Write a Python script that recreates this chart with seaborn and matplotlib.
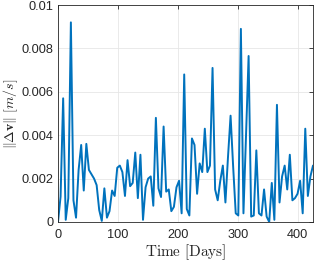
import seaborn as sns
import matplotlib.pyplot as plt
import pandas as pd

# Velocity increment magnitude per manoeuvre
days = [0.0, 4.3, 8.6, 12.9, 17.2, 21.5, 25.8, 30.1, 34.4, 38.7,
        43.0, 47.3, 51.6, 55.9, 60.2, 64.5, 68.8, 73.1, 77.4, 81.7,
        86.0, 90.3, 94.6, 98.9, 103.2, 107.5, 111.8, 116.1, 120.4, 124.7,
        129.0, 133.3, 137.6, 141.9, 146.2, 150.5, 154.8, 159.1, 163.4, 167.7,
        172.0, 176.3, 180.6, 184.9, 189.2, 193.5, 197.8, 202.1, 206.4, 210.7,
        215.0, 219.3, 223.6, 227.9, 232.2, 236.5, 240.8, 245.1, 249.4, 253.7,
        258.0, 262.3, 266.6, 270.9, 275.2, 279.5, 283.8, 288.1, 292.4, 296.7,
        301.0, 305.3, 309.6, 313.9, 318.2, 322.5, 326.8, 331.1, 335.4, 339.7,
        344.0, 348.3, 352.6, 356.9, 361.2, 365.5, 369.8, 374.1, 378.4, 382.7,
        387.0, 391.3, 395.6, 399.9, 404.2, 408.5, 412.8, 417.1, 421.4, 425.7]
dv = [0.0, 0.00117, 0.0057, 0.0001, 0.0011, 0.0092, 0.001, 0.0002, 0.0024, 0.00355,
      0.00145, 0.0036, 0.0024, 0.0022, 0.002, 0.0017, 0.00055, 0.00005, 0.00155, 0.0002,
      0.0005, 0.00145, 0.0012, 0.0025, 0.0026, 0.0023, 0.0012, 0.00285, 0.00165, 0.0018,
      0.0032, 0.0011, 0.0031, 0.0001, 0.0016, 0.002, 0.0021, 0.00075, 0.0048, 0.00155,
      0.00115, 0.0044, 0.0014, 0.0015, 0.0005, 0.0007, 0.0016, 0.0019, 0.0004, 0.0068,
      0.0006, 0.0003, 0.00385, 0.00355, 0.0013, 0.0027, 0.0023, 0.0043, 0.0023, 0.0026,
      0.0071, 0.0015, 0.001, 0.0019, 0.0026, 0.0009, 0.003, 0.0049, 0.00255, 0.0004,
      0.0003, 0.0089, 0.0004, 0.004, 0.00765, 0.00025, 0.0003, 0.0033, 0.0004, 0.0003,
      0.0015, 0.00025, 0.0, 0.0018, 0.0001, 0.0054, 0.0009, 0.0021, 0.0026, 0.0015,
      0.0031, 0.001, 0.0011, 0.0013, 0.0019, 0.0004, 0.0043, 0.0012, 0.0021, 0.0026]

xticks = [0, 100, 200, 300, 400]
yticks = [0, 0.002, 0.004, 0.006, 0.008, 0.01]
ytick_labels = ['0', '0.002', '0.004', '0.006', '0.008', '0.01']

df = pd.DataFrame({'day': days, 'dv': dv})

sns.set_style('white')
plt.rcParams['font.family'] = ['Liberation Sans', 'DejaVu Sans']
plt.rcParams['mathtext.fontset'] = 'cm'

fig = plt.figure(figsize=(3.17, 2.63), dpi=100)
ax = fig.add_axes([58 / 317, 41 / 263, 255 / 317, 217 / 263])

sns.lineplot(data=df, x='day', y='dv', ax=ax, color='#0072BD',
             linewidth=1.4, estimator=None)

ax.set_xlim(0, days[-1])
ax.set_ylim(0, 0.01)
ax.set_xticks(xticks)
ax.set_yticks(yticks)
ax.set_yticklabels(ytick_labels)
ax.grid(True, color='#E6E6E6', linewidth=0.6)
ax.tick_params(direction='in', length=3, labelsize=9.2, colors='#262626',
               top=True, right=True, width=0.6)
ax.tick_params(axis='x', pad=5)
for s in ax.spines.values():
    s.set_color('#262626')
    s.set_linewidth(0.6)

ax.set_xlabel(r'$\mathrm{Time\ [Days]}$', fontsize=11, color='#262626', labelpad=1)
ax.set_ylabel(r'$\Vert\Delta \mathbf{v}\Vert\ [m/s]$', fontsize=10, color='#262626')
ax.yaxis.set_label_coords(-0.15, 0.5)

fig.savefig('out.png', dpi=100)
